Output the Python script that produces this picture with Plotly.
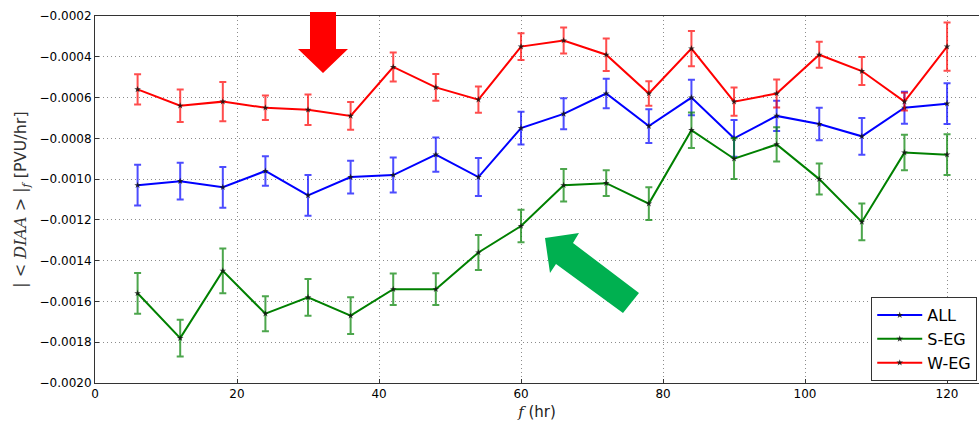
import plotly.graph_objects as go

# Forecast lead time (hr)
lead = [6, 12, 18, 24, 30, 36, 42, 48, 54, 60, 66, 72, 78, 84, 90, 96, 102, 108, 114, 120]

all_mean = [-0.00103, -0.00101, -0.00104, -0.00096, -0.00108, -0.00099, -0.00098, -0.00088, -0.00099, -0.00075,
            -0.00068, -0.00058, -0.00074, -0.00060, -0.00080, -0.00069, -0.00073, -0.00079, -0.00065, -0.00063]
all_err = [0.00010, 0.00009, 0.00010, 0.000072, 0.00010, 0.00008, 0.000086, 0.000084, 0.000093, 0.00008,
           0.000076, 0.000072, 0.000083, 0.000087, 0.00009, 0.000074, 0.00008, 0.00009, 0.000078, 0.00010]

seg_mean = [-0.00156, -0.00178, -0.00145, -0.00166, -0.00158, -0.00167, -0.00154, -0.00154, -0.00136, -0.00123,
            -0.00103, -0.00102, -0.00112, -0.00076, -0.00090, -0.00083, -0.00100, -0.00121, -0.00087, -0.00088]
seg_err = [0.00010, 0.00009, 0.00011, 0.000086, 0.00009, 0.00009, 0.000077, 0.000078, 0.000086, 0.00008,
           0.00008, 0.000063, 0.00008, 0.000087, 0.00010, 0.000084, 0.000076, 0.00009, 0.000087, 0.00010]

weg_mean = [-0.00056, -0.00064, -0.00062, -0.00065, -0.00066, -0.00069, -0.00045, -0.00055, -0.00061, -0.00035,
            -0.00032, -0.00039, -0.00058, -0.00036, -0.00062, -0.00058, -0.00039, -0.00047, -0.00062, -0.00035]
weg_err = [0.000074, 0.00008, 0.000096, 0.00006, 0.000075, 0.000068, 0.000071, 0.000066, 0.000064, 0.000066,
           0.000064, 0.00008, 0.00006, 0.000086, 0.000069, 0.000069, 0.000064, 0.000069, 0.000044, 0.000118]

series = [
    ("ALL", all_mean, all_err, "#0000ff", "rgba(0,0,255,0.7)"),
    ("S-EG", seg_mean, seg_err, "#008000", "rgba(0,128,0,0.7)"),
    ("W-EG", weg_mean, weg_err, "#ff0000", "rgba(255,0,0,0.7)"),
]

W, H = 979, 424
L, R, T, B = 95, 0, 16, 41

fig = go.Figure()
for name, mean, err, col, ecol in series:
    fig.add_trace(go.Scatter(
        x=lead, y=mean, name=name, mode="lines+markers",
        line=dict(color=col, width=2),
        marker=dict(symbol="star", size=5, color="rgba(20,20,20,0.85)"),
        error_y=dict(type="data", array=err, visible=True, color=ecol, thickness=2, width=3.5),
    ))

# Highlight arrows, given in pixel positions and converted to paper units
pw, ph = W - L - R, H - T - B


def to_paper(pts):
    return "M " + " L ".join(f"{(px - L) / pw:.5f},{(H - B - py) / ph:.5f}" for px, py in pts) + " Z"


red_arrow = [(310, 12), (336, 12), (336, 49), (348, 49), (323, 73), (298, 49), (310, 49)]
green_arrow = [(545, 238), (579, 233), (573, 243), (639, 293), (623, 313), (556, 264), (550, 273)]

fig.add_shape(type="path", xref="paper", yref="paper", path=to_paper(red_arrow),
              fillcolor="#ff0000", line=dict(width=0), layer="above")
fig.add_shape(type="path", xref="paper", yref="paper", path=to_paper(green_arrow),
              fillcolor="#00b050", line=dict(width=0), layer="above")

font = "DejaVu Sans, Liberation Sans, sans-serif"
serif = "font-family:'DejaVu Serif',serif"
fig.update_layout(
    width=W, height=H,
    margin=dict(l=L, r=R, t=T, b=B),
    paper_bgcolor="white", plot_bgcolor="white",
    font=dict(family=font, size=12, color="#000"),
    showlegend=True,
    legend=dict(x=0.998, y=0.005, xanchor="right", yanchor="bottom",
                bgcolor="white", bordercolor="#333", borderwidth=1,
                font=dict(size=16), tracegroupgap=0, itemwidth=45),
    xaxis=dict(range=[0, 124.5], tickvals=[0, 20, 40, 60, 80, 100, 120],
               showgrid=True, gridcolor="#8c8c8c", griddash="1px,3px", gridwidth=1,
               showline=True, linecolor="#333", linewidth=1, mirror=True,
               ticks="inside", ticklen=4, tickcolor="#333",
               zeroline=False,
               title=dict(text=f"<span style=\"{serif}\"><i>f</i></span> (hr)",
                          font=dict(size=15, color="#222"), standoff=6)),
    yaxis=dict(range=[-0.0020, -0.0002], dtick=0.0002, tickformat=".4f",
               showgrid=True, gridcolor="#8c8c8c", griddash="1px,3px", gridwidth=1,
               showline=True, linecolor="#333", linewidth=1, mirror=False,
               ticks="inside", ticklen=4, tickcolor="#333",
               zeroline=False,
               title=dict(text=f"<span style=\"{serif}\">| &lt; <i>DIAA</i> &gt; |<sub><i>f</i></sub></span> [PVU/hr]",
                          font=dict(size=16, color="#333"), standoff=8)),
)

fig.write_html("out.html")
